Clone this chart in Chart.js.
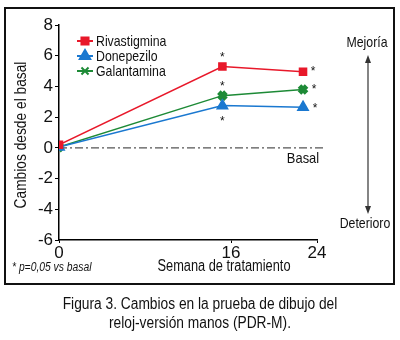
<!DOCTYPE html>
<html lang="es">
<head>
<meta charset="UTF-8">
<title>Figura 3</title>
<script src="https://cdn.jsdelivr.net/npm/chart.js"></script>
<style>
  html, body { margin: 0; padding: 0; background: #fff; }
  #wrap { width: 400px; height: 340px; position: relative; }
</style>
</head>
<body>
<div id="wrap"><canvas id="pdr" width="400" height="340"></canvas></div>
<script>
// semanas (as plotted in the figure)
const weeks = [0, 15.2, 22.7];
const rivastigmina = [0.2, 5.3, 4.95];
const donepezilo = [0.05, 2.75, 2.65];
const galantamina = [0.05, 3.4, 3.8];
const xTicks = [0, 16, 24];
const yTicks = [-6, -4, -2, 0, 2, 4, 6, 8];

const FONT = "'Liberation Sans', Arial, sans-serif";

function pts(vals) {
  return vals.map((v, i) => ({x: weeks[i], y: v}));
}

// asterisks next to the significant points: [dataset, point, dx, dy]
const stars = [
  [0, 1, 0, -12], [0, 2, 10, -3],
  [2, 1, 0, -12], [2, 2, 11, -3],
  [1, 1, 0, 13], [1, 2, 12, -1]
];

// narrow-looking text: squeeze horizontally
function txt(c, s, x, y, size, align, style, sq) {
  c.save();
  c.translate(x, y);
  c.scale(sq || 0.86, 1);
  c.font = (style || '') + ' ' + size + 'px ' + FONT;
  c.textAlign = align || 'center';
  c.textBaseline = 'middle';
  c.fillText(s, 0, 0);
  c.restore();
}

const extras = {
  id: 'extras',
  beforeDraw(chart) {
    const c = chart.ctx;
    c.save();
    c.fillStyle = '#fff';
    c.fillRect(0, 0, chart.width, chart.height);
    c.restore();
  },
  beforeDatasetsDraw(chart) {
    const c = chart.ctx, a = chart.chartArea;
    const y0 = chart.scales.y.getPixelForValue(0);
    c.save();
    c.strokeStyle = '#555';
    c.lineWidth = 1.2;
    c.setLineDash([8, 3, 2, 3]);
    c.beginPath();
    c.moveTo(a.left, y0);
    c.lineTo(a.right + 7, y0);
    c.stroke();
    c.restore();
  },
  afterDraw(chart) {
    const c = chart.ctx;
    c.save();
    // frame
    c.strokeStyle = '#111';
    c.lineWidth = 2;
    c.strokeRect(5, 8, 389, 276);
    c.fillStyle = '#111';

    // legend
    chart.data.datasets.forEach((ds, i) => {
      const y = 41 + i * 15;
      c.strokeStyle = ds.borderColor;
      c.lineWidth = 2;
      c.beginPath();
      c.moveTo(77, y);
      c.lineTo(93, y);
      c.stroke();
      Chart.helpers.drawPoint(c, {
        pointStyle: ds.pointStyle,
        radius: ds.pointRadius,
        borderWidth: ds.pointBorderWidth || 1,
        rotation: 0
      }, 85, y);
      c.fillStyle = ds.backgroundColor;
      c.fill();
      c.fillStyle = '#111';
      txt(c, ds.label, 96, y + 1, 15, 'left', '', 0.82);
    });

    // asterisks
    c.font = '12px ' + FONT;
    c.textAlign = 'center';
    c.textBaseline = 'middle';
    stars.forEach(([d, i, dx, dy]) => {
      const p = chart.getDatasetMeta(d).data[i];
      c.fillText('*', p.x + dx, p.y + dy + 3);
    });

    txt(c, 'Basal', 303, 159, 15);

    // y title
    c.save();
    c.translate(22, 135);
    c.rotate(-Math.PI / 2);
    txt(c, 'Cambios desde el basal', 0, 0, 16);
    c.restore();

    txt(c, 'Semana de tratamiento', 224, 267, 16, 'center', '', 0.8);
    txt(c, '* p=0,05 vs basal', 12, 268, 12, 'left', 'italic');

    // right side arrow
    txt(c, 'Mejor\u00eda', 367, 43, 15, 'center', '', 0.82);
    txt(c, 'Deterioro', 365, 224, 15, 'center', '', 0.82);
    c.strokeStyle = '#333';
    c.fillStyle = '#333';
    c.lineWidth = 1.2;
    c.beginPath();
    c.moveTo(368, 59);
    c.lineTo(368, 210);
    c.stroke();
    c.beginPath();
    c.moveTo(368, 55); c.lineTo(365, 63); c.lineTo(371, 63); c.closePath();
    c.fill();
    c.beginPath();
    c.moveTo(368, 214); c.lineTo(365, 206); c.lineTo(371, 206); c.closePath();
    c.fill();

    // caption
    c.fillStyle = '#111';
    txt(c, 'Figura 3. Cambios en la prueba de dibujo del', 200, 305, 16);
    txt(c, 'reloj-versi\u00f3n manos (PDR-M).', 200, 324, 16);
    c.restore();
  }
};

new Chart(document.getElementById('pdr'), {
  type: 'line',
  data: {
    datasets: [
      {
        label: 'Rivastigmina',
        data: pts(rivastigmina),
        borderColor: '#e8182a',
        backgroundColor: '#e8182a',
        pointStyle: 'rect',
        pointRadius: 5,
        borderWidth: 1.5
      },
      {
        label: 'Donepezilo',
        data: pts(donepezilo),
        borderColor: '#1a78d0',
        backgroundColor: '#1a78d0',
        pointStyle: 'triangle',
        pointRadius: 6,
        borderWidth: 1.5
      },
      {
        label: 'Galantamina',
        data: pts(galantamina),
        borderColor: '#1d8a36',
        backgroundColor: '#1d8a36',
        pointStyle: 'crossRot',
        pointRadius: 5,
        pointBorderWidth: 5,
        borderWidth: 1.5
      }
    ]
  },
  options: {
    responsive: false,
    animation: false,
    devicePixelRatio: 1,
    layout: { padding: { left: 0, top: 25, right: 83, bottom: 70 } },
    plugins: {
      legend: { display: false },
      tooltip: { enabled: false }
    },
    scales: {
      x: {
        type: 'linear',
        min: 0,
        max: 24,
        afterBuildTicks: s => { s.ticks = xTicks.map(v => ({value: v})); },
        afterFit: s => { s.height = 30; },
        grid: { drawOnChartArea: false, tickLength: 3, color: '#000' },
        border: { color: '#000', width: 1.5 },
        ticks: { color: '#111', font: { family: FONT, size: 17 }, padding: 0 }
      },
      y: {
        min: -6,
        max: 8,
        afterBuildTicks: s => { s.ticks = yTicks.map(v => ({value: v})); },
        afterFit: s => { s.width = 59; },
        grid: { drawOnChartArea: false, tickLength: 4, color: '#000' },
        border: { color: '#000', width: 1.5 },
        ticks: { color: '#111', font: { family: FONT, size: 17 }, padding: 2 }
      }
    }
  },
  plugins: [extras]
});
</script>
</body>
</html>
